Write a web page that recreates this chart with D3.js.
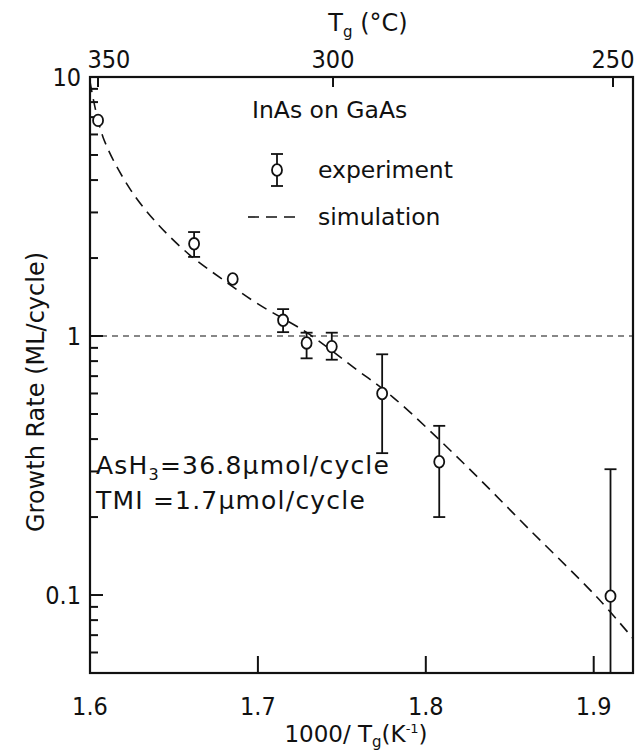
<!DOCTYPE html>
<html><head><meta charset="utf-8">
<script src="https://cdn.jsdelivr.net/npm/d3@7"></script>
<style>
body{margin:0;background:#fff;}
text{font-family:"DejaVu Sans","Liberation Sans",sans-serif;fill:#111;}
.num{font-family:"DejaVu Sans Condensed","Liberation Sans Narrow","DejaVu Sans",sans-serif;}
</style></head><body>
<svg id="c" width="636" height="751"></svg>
<script>
// ---- data ----
const xTicks = [1.6, 1.7, 1.8, 1.9];
const xTickLabels = ["1.6", "1.7", "1.8", "1.9"];
const topTicksC = [350, 300, 250];
const yMajor = [0.1, 1, 10];
const yTickLabels = ["0.1", "1", "10"];

const expX  = [1.6048, 1.662, 1.685, 1.715, 1.729, 1.744, 1.774, 1.808, 1.910];
const expY  = [6.8,    2.27,  1.66,  1.15,  0.94,  0.91,  0.60,  0.327, 0.099];
const errHi = [null,   2.52,  null,  1.27,  1.03,  1.03,  0.85,  0.45,  0.306];
const errLo = [null,   2.02,  null,  1.035, 0.82,  0.81,  0.353, 0.20,  0.04];

const simX = [1.600, 1.6077, 1.6238, 1.640, 1.6596, 1.6792, 1.700, 1.7292, 1.7566, 1.7805, 1.8222, 1.8621, 1.9020, 1.9234];
const simY = [9.6,   5.87,   3.7,    2.72,  2.05,   1.65,   1.33,  1.03,   0.76,   0.58,   0.324,  0.178,  0.098,  0.068];

const refLine = 1;

// ---- layout ----
const L = 90, R = 633, T = 77, B = 673;
const svg = d3.select("#c");
const x = d3.scaleLinear().domain([1.6, 1.9234]).range([L, R]);
const y = d3.scaleLog().domain([0.05, 10]).range([B, T]);
const INK = "#111";

svg.append("defs").append("clipPath").attr("id","clip")
  .append("rect").attr("x",L).attr("y",T).attr("width",R-L).attr("height",B-T);

// frame
svg.append("rect").attr("x",L).attr("y",T).attr("width",R-L).attr("height",B-T)
  .attr("fill","none").attr("stroke",INK).attr("stroke-width",2.2);

const minorVals = [];
[0.01,0.1,1].forEach(d=>{for(let k=2;k<=9;k++){const v=d*k; if(v>=0.05&&v<10) minorVals.push(v);}});
const yTickData = minorVals.map(v=>({v,len:8})).concat(yMajor.filter(v=>v<10).map(v=>({v,len:13})));
const topPos = topTicksC.map(c=>1000/(c+273.15));

const ticks = svg.append("g").attr("stroke",INK).attr("stroke-width",2);
yTickData.forEach(d=>{ ticks.append("line").attr("x1",L).attr("x2",L+d.len).attr("y1",y(d.v)).attr("y2",y(d.v)); });
xTicks.slice(1).forEach(d=>{ ticks.append("line").attr("x1",x(d)).attr("x2",x(d)).attr("y1",B).attr("y2",B-17); });
topPos.forEach(d=>{ ticks.append("line").attr("x1",x(d)).attr("x2",x(d)).attr("y1",T).attr("y2",T+10); });

// tick labels
svg.append("g").selectAll("text").data(yMajor).join("text").attr("class","num")
  .attr("x",L-9).attr("y",d=>y(d)).attr("dy","0.36em").attr("text-anchor","end")
  .attr("font-size",25).text((d,i)=>yTickLabels[i]);
svg.append("g").selectAll("text").data(xTicks).join("text").attr("class","num")
  .attr("x",d=>x(d)).attr("y",B+42).attr("text-anchor","middle")
  .attr("font-size",25).text((d,i)=>xTickLabels[i]);
svg.append("g").selectAll("text").data(topPos).join("text").attr("class","num")
  .attr("x",d=>x(d)+ (d<1.61?11:0)).attr("y",T-9).attr("text-anchor","middle")
  .attr("font-size",25).text((d,i)=>topTicksC[i]);

// axis titles
const tt = svg.append("text").attr("x",368).attr("y",31).attr("text-anchor","middle").attr("font-size",24);
tt.append("tspan").text("T");
tt.append("tspan").attr("font-size",15).attr("dy",6).text("g");
tt.append("tspan").attr("dy",-6).text(" (°C)");

const xt = svg.append("text").attr("x",356).attr("y",742).attr("text-anchor","middle").attr("font-size",23);
xt.append("tspan").text("1000/ T");
xt.append("tspan").attr("font-size",15).attr("dy",5).text("g");
xt.append("tspan").attr("dy",-5).text("(K");
xt.append("tspan").attr("font-size",13).attr("dy",-9).text("-1");
xt.append("tspan").attr("dy",9).text(")");

svg.append("text").attr("transform","translate(44,392) rotate(-90)")
  .attr("text-anchor","middle").attr("font-size",24).text("Growth Rate (ML/cycle)");

// plot content
const plot = svg.append("g").attr("clip-path","url(#clip)");
plot.append("line").attr("x1",L).attr("x2",R).attr("y1",y(refLine)).attr("y2",y(refLine))
  .attr("stroke",INK).attr("stroke-width",1.2).attr("stroke-dasharray","6,5");

const simData = simX.map((v,i)=>[v,simY[i]]);
plot.append("path").datum(simData)
  .attr("d",d3.line().x(d=>x(d[0])).y(d=>y(d[1])).curve(d3.curveCatmullRom.alpha(0.5)))
  .attr("fill","none").attr("stroke",INK).attr("stroke-width",1.6).attr("stroke-dasharray","11,7");

const exp = expX.map((v,i)=>({x:v,y:expY[i],hi:errHi[i],lo:errLo[i]}));
const eb = plot.append("g").selectAll("g").data(exp.filter(d=>d.hi!==null)).join("g")
  .attr("stroke",INK).attr("stroke-width",1.8);
eb.append("line").attr("x1",d=>x(d.x)).attr("x2",d=>x(d.x)).attr("y1",d=>y(d.hi)).attr("y2",d=>y(d.lo));
eb.append("line").attr("x1",d=>x(d.x)-6).attr("x2",d=>x(d.x)+6).attr("y1",d=>y(d.hi)).attr("y2",d=>y(d.hi));
eb.append("line").attr("x1",d=>x(d.x)-6).attr("x2",d=>x(d.x)+6).attr("y1",d=>y(d.lo)).attr("y2",d=>y(d.lo));
plot.append("g").selectAll("ellipse").data(exp).join("ellipse")
  .attr("cx",d=>x(d.x)).attr("cy",d=>y(d.y)).attr("rx",5).attr("ry",5.8)
  .attr("fill","#fff").attr("stroke",INK).attr("stroke-width",1.8);

// legend / annotations
svg.append("text").attr("x",252).attr("y",118).attr("font-size",23.5).text("InAs on GaAs");
const lg = svg.append("g").attr("stroke",INK).attr("stroke-width",1.8);
lg.append("line").attr("x1",277).attr("x2",277).attr("y1",154).attr("y2",186);
lg.append("line").attr("x1",271).attr("x2",283).attr("y1",154).attr("y2",154);
lg.append("line").attr("x1",271).attr("x2",283).attr("y1",186).attr("y2",186);
lg.append("ellipse").attr("cx",277).attr("cy",170).attr("rx",5).attr("ry",5.8).attr("fill","#fff");
svg.append("text").attr("x",318).attr("y",178).attr("font-size",23.5).text("experiment");
svg.append("line").attr("x1",248).attr("x2",302).attr("y1",217).attr("y2",217)
  .attr("stroke",INK).attr("stroke-width",1.6).attr("stroke-dasharray","11,7");
svg.append("text").attr("x",318).attr("y",225).attr("font-size",23.5).text("simulation");

const a1 = svg.append("text").attr("x",96).attr("y",474).attr("font-size",25).attr("letter-spacing",1.2);
a1.append("tspan").text("AsH");
a1.append("tspan").attr("font-size",16).attr("dy",6).text("3");
a1.append("tspan").attr("dy",-6).text("=36.8μmol/cycle");
svg.append("text").attr("x",96).attr("y",509).attr("font-size",25).attr("letter-spacing",1.2)
  .text("TMI  =1.7μmol/cycle");
</script>
</body></html>
